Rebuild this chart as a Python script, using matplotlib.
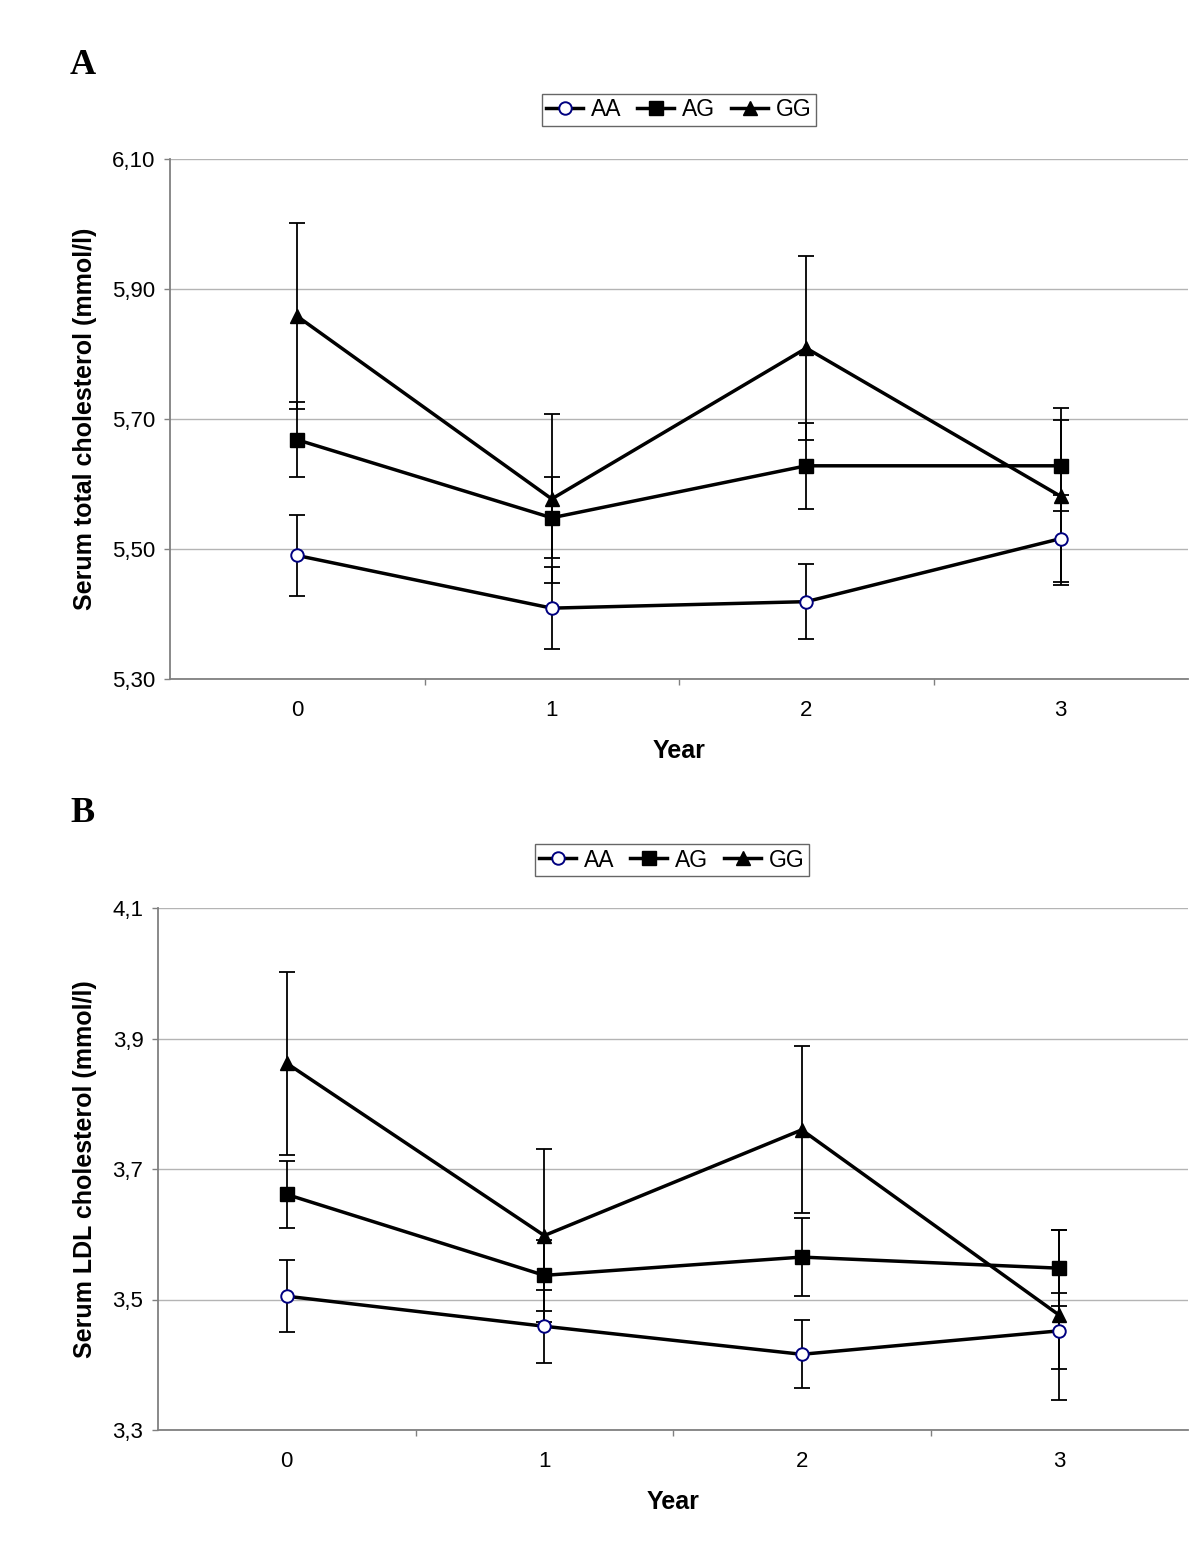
import matplotlib
matplotlib.use("Agg")
import matplotlib.pyplot as plt
from matplotlib.ticker import FixedLocator, FuncFormatter

plt.rcParams['font.family'] = ['Liberation Sans', 'DejaVu Sans']

#years on the x axis
years = [0, 1, 2, 3]
groups = ['AA', 'AG', 'GG']

#panel A: serum total cholesterol (mean and error)
tc_aa = [5.490, 5.409, 5.419, 5.516]
tc_aa_err = [0.062, 0.063, 0.058, 0.067]
tc_ag = [5.668, 5.548, 5.628, 5.628]
tc_ag_err = [0.058, 0.062, 0.066, 0.070]
tc_gg = [5.858, 5.577, 5.809, 5.581]
tc_gg_err = [0.143, 0.130, 0.141, 0.136]

#panel B: serum LDL cholesterol
ldl_aa = [3.505, 3.459, 3.416, 3.452]
ldl_aa_err = [0.055, 0.056, 0.052, 0.058]
ldl_ag = [3.661, 3.537, 3.565, 3.548]
ldl_ag_err = [0.052, 0.054, 0.060, 0.058]
ldl_gg = [3.862, 3.598, 3.760, 3.476]
ldl_gg_err = [0.140, 0.133, 0.128, 0.130]

tc_ticks = [5.30, 5.50, 5.70, 5.90, 6.10]
ldl_ticks = [3.3, 3.5, 3.7, 3.9, 4.1]

W, H = 1200, 1545
fig = plt.figure(figsize=(12, 15.45), dpi=100)

#marker styles for AA, AG, GG
styles = {
    'AA': dict(marker='o', ms=9, mfc='white', mec='#000080', mew=1.4),
    'AG': dict(marker='s', ms=9.5, mfc='black', mec='black', mew=1),
    'GG': dict(marker='^', ms=10, mfc='black', mec='black', mew=1),
}


def comma(v, decimals):
    return ('%.' + str(decimals) + 'f') % v


def drawPanel(rect, series, ticks, decimals, ylabel, label_x, legend_xy, letter_xy, letter):
    ax = fig.add_axes(rect)
    ax.set_xlim(-0.5, 3.5)
    ax.set_ylim(ticks[0], ticks[-1])

    for name, vals, errs in series:
        ax.errorbar(years, vals, yerr=errs, fmt='none', ecolor='black',
                    elinewidth=1.3, capsize=5.5, capthick=1.3, zorder=3)
    handles = []
    for name, vals, errs in series:
        ln, = ax.plot(years, vals, '-', color='black', lw=2.5, zorder=4,
                      label=name, **styles[name])
        handles.append(ln)

    #y axis
    ax.yaxis.set_major_locator(FixedLocator(ticks))
    ax.yaxis.set_major_formatter(FuncFormatter(
        lambda v, p: comma(v, decimals).replace('.', ',')))
    ax.yaxis.grid(True, color='#b4b4b4', lw=1.0)
    ax.set_axisbelow(True)

    #x axis: labels at the years, tick marks between them
    ax.xaxis.set_major_locator(FixedLocator(years))
    ax.xaxis.set_minor_locator(FixedLocator([0.5, 1.5, 2.5]))
    ax.tick_params(axis='x', which='major', length=0, pad=15, labelsize=16)
    ax.tick_params(axis='x', which='minor', length=4.5, width=1, color='#808080')
    ax.tick_params(axis='y', which='major', length=4.5, width=1, color='#808080',
                   pad=6, labelsize=16)

    for s in ['top', 'right']:
        ax.spines[s].set_visible(False)
    for s in ['left', 'bottom']:
        ax.spines[s].set_color('#808080')
        ax.spines[s].set_linewidth(1.3)

    ax.set_ylabel(ylabel, fontsize=18, fontweight='bold')
    ax.yaxis.set_label_coords(label_x, 0.5)
    ax.set_xlabel('Year', fontsize=18, fontweight='bold')
    ax.xaxis.set_label_coords(0.5, -0.115)

    leg = fig.legend(handles=handles, labels=groups, loc='center',
                     bbox_to_anchor=(legend_xy[0] / W, 1 - legend_xy[1] / H),
                     ncol=3, fontsize=16.5, frameon=True, fancybox=False,
                     handlelength=1.6, handletextpad=0.35, columnspacing=0.7,
                     borderpad=0.2, borderaxespad=0)
    leg.get_frame().set_edgecolor('#404040')
    leg.get_frame().set_linewidth(1.0)

    fig.text(letter_xy[0] / W, 1 - letter_xy[1] / H, letter, fontsize=26,
             fontweight='bold', family='Liberation Serif', ha='left', va='center')
    return ax


drawPanel([170 / W, 1 - 679 / H, 1018 / W, 520 / H],
          [('AA', tc_aa, tc_aa_err), ('AG', tc_ag, tc_ag_err), ('GG', tc_gg, tc_gg_err)],
          tc_ticks, 2, 'Serum total cholesterol (mmol/l)', -0.072,
          (679, 110), (70, 65), 'A')

drawPanel([158 / W, 1 - 1430 / H, 1030 / W, 522 / H],
          [('AA', ldl_aa, ldl_aa_err), ('AG', ldl_ag, ldl_ag_err), ('GG', ldl_gg, ldl_gg_err)],
          ldl_ticks, 1, 'Serum LDL cholesterol (mmol/l)', -0.059,
          (672, 860), (70, 813), 'B')

fig.savefig('out.png', dpi=100, facecolor='white')
